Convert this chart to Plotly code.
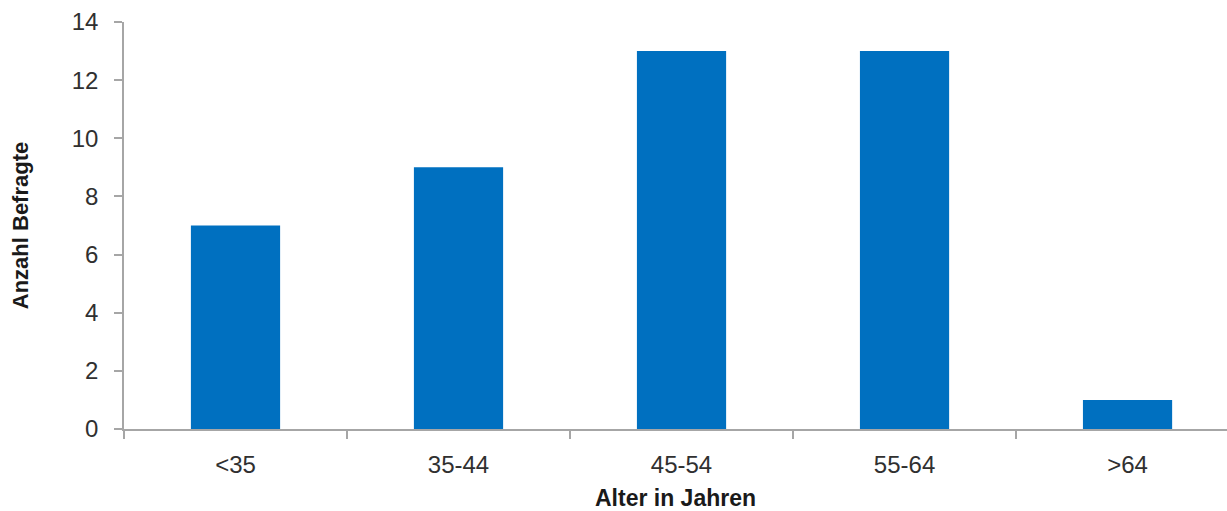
import plotly.graph_objects as go

categories = ["<35", "35-44", "45-54", "55-64", ">64"]
values = [7, 9, 13, 13, 1]
y_ticks = [0, 2, 4, 6, 8, 10, 12, 14]

fig = go.Figure(go.Bar(x=categories, y=values, marker_color="#0070C0",
                       marker_line_width=0, width=0.4))

font = "Liberation Sans"
fig.update_layout(
    width=1227, height=511,
    margin=dict(l=124, r=0, t=22, b=82),
    paper_bgcolor="white", plot_bgcolor="white",
    showlegend=False,
    font=dict(family=font, size=24, color="#303030"),
)
fig.update_xaxes(
    type="category", range=[-0.5, 4.446],
    showline=True, linecolor="#A6A6A6", linewidth=1.5,
    ticks="outside", tickson="boundaries", ticklen=8, tickcolor="#A6A6A6", tickwidth=1.5,
    ticklabelstandoff=13, automargin=False,
    title=dict(text="<b>Alter in Jahren</b>", font=dict(size=23, color="#1a1a1a"), standoff=19),
)
fig.update_yaxes(
    range=[0, 14], tickvals=y_ticks, showgrid=False, zeroline=False,
    showline=True, linecolor="#A6A6A6", linewidth=1.5,
    ticks="outside", ticklen=8, tickcolor="#A6A6A6", tickwidth=1.5,
    ticklabelstandoff=11, automargin=False,
    title=dict(text="<b>Anzahl Befragte</b>", font=dict(size=22, color="#1a1a1a"), standoff=37),
)
fig.write_html("out.html", config={"displayModeBar": False},
               post_script="document.body.style.margin='0';document.body.style.overflow='hidden';")
